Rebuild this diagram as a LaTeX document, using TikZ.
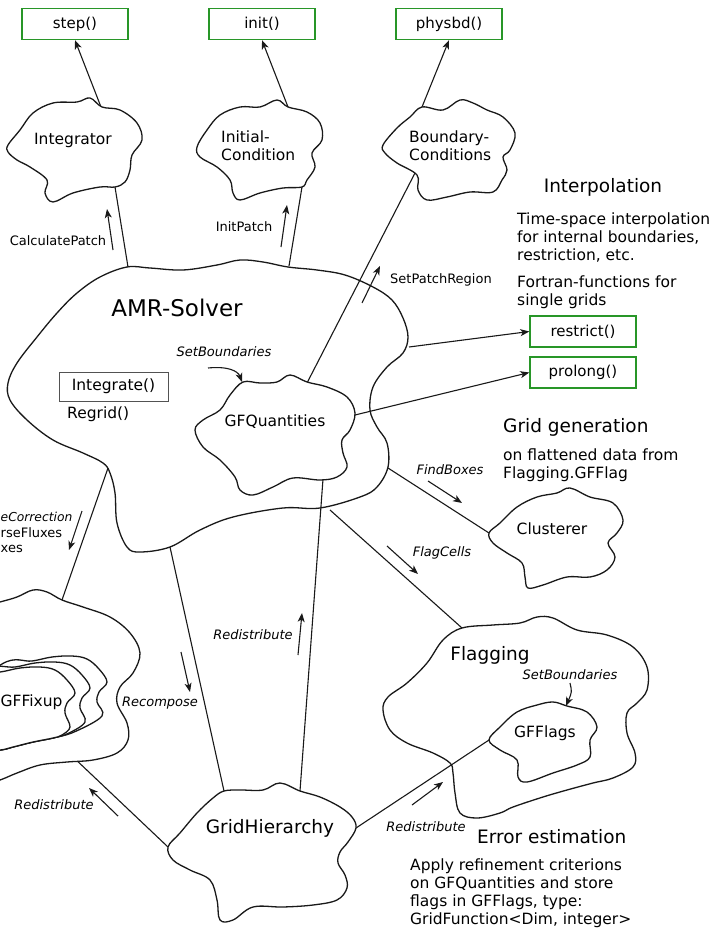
\documentclass[tikz,border=0pt]{standalone}
\usepackage{fontspec}
\setmainfont{DejaVu Sans}
\usetikzlibrary{arrows.meta}
\definecolor{boxgreen}{RGB}{40,150,40}
\definecolor{ink}{RGB}{25,25,25}
\tikzset{
  cloud/.style={draw=ink, line width=1.3pt, fill=white},
  conn/.style={draw=ink, line width=1.1pt},
  flow/.style={draw=ink, line width=1.1pt, -{Stealth[length=9pt,width=7pt,inset=2.5pt]}},
  funcbox/.style={draw=boxgreen, line width=1.4pt, minimum width=106pt, minimum height=31pt, inner sep=0pt, font=\fontsize{15}{18}\selectfont},
  lbl/.style={inner sep=0pt, font=\fontsize{15.5}{18}\selectfont},
  big/.style={inner sep=0pt, font=\fontsize{18.5}{22}\selectfont},
  small/.style={inner sep=0pt, font=\fontsize{13}{15}\selectfont},
  ital/.style={inner sep=0pt, font=\fontsize{13}{15}\selectfont\itshape},
  para/.style={inner sep=0pt, align=left, anchor=north west, font=\fontsize{15.5}{18}\selectfont},
}
\begin{document}
\begin{tikzpicture}[x=1pt,y=-1pt]
\useasboundingbox (0,0) rectangle (716,931);
\clip (0,0) rectangle (716,931);
\fill[white] (0,0) rectangle (716,931);

% ---------- AMR-Solver ----------
\path[cloud] plot[smooth cycle, tension=0.6] coordinates {
 (127,267) (150,268) (183,270) (217,265) (240,260) (263,262) (288,267) (317,270)
 (345,275) (373,287) (392,300) (403,318) (408,337) (403,353) (387,367) (373,387)
 (370,410) (377,427) (387,443) (388,467) (377,487) (360,497) (320,508) (283,508)
 (233,517) (200,530) (170,547) (140,552) (127,547) (117,523) (115,493) (110,473)
 (103,463) (83,453) (53,440) (27,420) (10,400) (8,383) (17,363) (37,337) (57,313)
 (77,293) (100,277)};
\node[inner sep=0pt, font=\fontsize{23}{26}\selectfont] (amr) at (177,308) {AMR-Solver};
\node[draw=ink!75, line width=1pt, minimum width=109pt, minimum height=29pt, inner sep=0pt, font=\fontsize{15.5}{18}\selectfont] (integ) at (113.5,386.5) {Integrate()};
\node[lbl, anchor=west] (regrid) at (67,414) {Regrid()};

% ---------- coordinates of connector ends ----------
\coordinate (intB) at (115,187);
\coordinate (intT) at (101,107);
\coordinate (amrT1) at (128,267);
\coordinate (icB) at (302,187);
\coordinate (icT) at (288,107);
\coordinate (amrT2) at (289,266);
\coordinate (bcT) at (422,107);
\coordinate (bcL) at (415,173);
\coordinate (gfqT) at (307,383);
\coordinate (gfqR) at (355,415);
\coordinate (gfqB) at (323,479);
\coordinate (amrR) at (409,347);
\coordinate (amrR2) at (388,468);
\coordinate (amrB) at (330,510);
\coordinate (amrBL) at (170,547);
\coordinate (amrL) at (108,468);
\coordinate (fixT) at (62,600);
\coordinate (fixB) at (53,738);
\coordinate (ghL) at (168,847);
\coordinate (ghT1) at (224,791);
\coordinate (ghT2) at (300,791);
\coordinate (ghR) at (356,828);
\coordinate (flT) at (462,628);
\coordinate (gffL) at (489,740);
\coordinate (clL) at (489,533);

% ---------- green function boxes ----------
\node[funcbox] (step) at (75,24) {step()};
\node[funcbox] (init) at (262,24) {init()};
\node[funcbox] (physbd) at (449,24) {physbd()};
\node[funcbox] (restrict) at (583,331.5) {restrict()};
\node[funcbox] (prolong) at (583,372.5) {prolong()};

% ---------- connectors ----------
\draw[flow] (intT) -- (step.south);
\draw[flow] (icT) -- (init.south);
\draw[flow] (bcT) -- (physbd.south);
\draw[conn] (intB) -- (amrT1);
\draw[conn] (icB) -- (amrT2);
\draw[conn] (gfqT) -- (bcL);
\draw[flow] (amrR) -- (restrict.west);
\draw[flow] (gfqR) -- (prolong.west);
\draw[conn] (gfqB) -- (ghT2);
\draw[conn] (amrBL) -- (ghT1);
\draw[conn] (amrL) -- (fixT);
\draw[conn] (fixB) -- (ghL);
\draw[conn] (ghR) -- (gffL);
\draw[conn] (amrB) -- (flT);
\draw[conn] (amrR2) -- (clL);

% ---------- Integrator ----------
\path[cloud] plot[smooth cycle, tension=0.6] coordinates {
 (8,145) (20,130) (33,113) (53,103) (77,102) (90,98) (102,107) (120,110) (137,123)
 (142,140) (132,155) (130,170) (125,182) (115,187) (100,187) (73,193) (53,202)
 (45,193) (47,180) (30,167) (17,160) (8,152)};
\node[lbl] (integrator) at (73,140) {Integrator};

% ---------- Initial-Condition ----------
\path[cloud] plot[smooth cycle, tension=0.6] coordinates {
 (197,147) (207,130) (220,115) (240,107) (260,107) (277,100) (288,107) (307,112)
 (320,123) (322,140) (312,153) (315,167) (307,180) (302,187) (283,188) (260,193)
 (240,200) (233,193) (230,180) (217,167) (200,157)};
\node[lbl, align=left, anchor=west] (initcond) at (221,146) {Initial-\\Condition};

% ---------- Boundary-Conditions ----------
\path[cloud] plot[smooth cycle, tension=0.6] coordinates {
 (383,145) (397,128) (410,117) (422,107) (443,110) (460,100) (473,103) (487,110)
 (503,117) (515,133) (510,150) (503,157) (507,170) (502,180) (493,192) (470,192)
 (447,197) (427,200) (418,190) (417,175) (397,163) (385,153)};
\node[lbl, align=left, anchor=west] (bc) at (409,146) {Boundary-\\Conditions};

% ---------- GFQuantities ----------
\path[cloud] plot[smooth cycle, tension=0.6] coordinates {
 (243,382) (260,383) (277,382) (290,375) (307,382) (327,387) (347,397) (355,413)
 (350,430) (342,440) (343,453) (347,467) (337,477) (320,480) (293,478) (273,487)
 (253,495) (240,490) (235,477) (220,460) (203,447) (195,430) (203,420) (220,410)
 (230,395)};
\node[lbl] (gfq) at (275,422) {GFQuantities};

% ---------- Clusterer ----------
\path[cloud] plot[smooth cycle, tension=0.6] coordinates {
 (489,533) (500,523) (517,507) (537,497) (557,493) (570,488) (590,497) (613,503)
 (623,520) (617,533) (608,543) (615,557) (607,570) (590,577) (567,577) (543,585)
 (528,588) (525,577) (522,563) (507,553) (493,543)};
\node[lbl] (clusterer) at (552,529) {Clusterer};

% ---------- Flagging ----------
\path[cloud, fill=none] plot[smooth cycle, tension=0.6] coordinates {
 (462,628) (493,625) (520,623) (537,617) (553,618) (577,630) (607,635) (633,647)
 (647,667) (647,690) (637,703) (627,713) (627,733) (635,753) (633,767) (613,778)
 (593,783) (567,790) (543,797) (513,807) (500,813) (477,818) (460,813) (455,793)
 (453,773) (450,763) (433,753) (407,743) (390,730) (383,710) (388,697) (407,683)
 (427,663) (443,640)};
\node[big] (flagging) at (490,655) {Flagging};

% ---------- GFFlags ----------
\path[cloud] plot[smooth cycle, tension=0.6] coordinates {
 (489,740) (500,727) (517,712) (537,705) (553,702) (567,706) (587,712) (597,727)
 (590,740) (590,757) (577,765) (553,773) (527,782) (518,777) (517,760) (500,750)};
\node[lbl] (gfflags) at (545,733) {GFFlags};

% ---------- GridHierarchy ----------
\path[cloud] plot[smooth cycle, tension=0.6] coordinates {
 (168,847) (180,833) (197,813) (213,798) (224,791) (240,790) (263,790) (280,783)
 (300,791) (320,797) (340,807) (352,817) (356,828) (348,842) (340,852) (338,863)
 (345,875) (347,888) (337,900) (313,905) (283,907) (253,907) (233,920) (220,920)
 (217,900) (210,880) (190,870) (173,860)};
\node[big] (gh) at (270,828) {GridHierarchy};

% ---------- GFFixup container ----------
\path[cloud] plot[smooth cycle, tension=0.6] coordinates {
 (-30,610) (0,602) (17,597) (33,590) (47,592) (62,600) (83,607) (110,617) (130,633)
 (140,653) (133,673) (120,687) (117,703) (127,723) (128,740) (117,753) (93,760)
 (67,762) (40,765) (17,773) (0,780) (-30,790) (-60,700)};
% stacked clouds, back to front
\foreach \dx/\dy in {32/-11, 15/-5, 0/0} {
  \path[cloud] plot[smooth cycle, tension=0.6] coordinates {
   ({-30+\dx},{675+\dy}) ({0+\dx},{672+\dy}) ({20+\dx},{668+\dy}) ({40+\dx},{667+\dy})
   ({55+\dx},{670+\dy}) ({67+\dx},{680+\dy}) ({75+\dx},{693+\dy}) ({67+\dx},{703+\dy})
   ({65+\dx},{713+\dy}) ({70+\dx},{727+\dy}) ({62+0.4*\dx},{735+0.3*\dy}) ({53},{738})
   ({33},{742}) ({13},{747}) ({0},{750}) ({-30},{752}) ({-50},{710})};
}
\node[lbl, anchor=west] (gffixup) at (0.5,702) {GFFixup};

% ---------- flow labels and arrows ----------
\node[small] (lcalc) at (58,241) {CalculatePatch};
\coordinate (ca1) at (113,250); \coordinate (ca2) at (107,209);
\draw[flow] (ca1) -- (ca2);

\node[small] (linit) at (244,227) {InitPatch};
\coordinate (ia1) at (281,247); \coordinate (ia2) at (287,205);
\draw[flow] (ia1) -- (ia2);

\node[small] (lspr) at (441,280) {SetPatchRegion};
\coordinate (sa1) at (362,303); \coordinate (sa2) at (380,266);
\draw[flow] (sa1) -- (sa2);

\node[ital] (lsb1) at (224,352) {SetBoundaries};
\coordinate (sb1) at (208,368); \coordinate (sb2) at (242,382);
\draw[flow] (sb1) .. controls (228,366) and (238,371) .. (sb2);

\node[ital] (lsb2) at (570,675) {SetBoundaries};
\coordinate (sc1) at (570,683); \coordinate (sc2) at (566,706);
\draw[flow] (sc1) .. controls (572,692) .. (sc2);

\node[ital] (lfind) at (450,470) {FindBoxes};
\coordinate (fa1) at (428,481); \coordinate (fa2) at (462,503);
\draw[flow] (fa1) -- (fa2);

\node[ital] (lflag) at (442,553) {FlagCells};
\coordinate (fc1) at (387,546); \coordinate (fc2) at (418,574);
\draw[flow] (fc1) -- (fc2);

\node[ital] (lred1) at (253,635) {Redistribute};
\coordinate (ra1) at (298,655); \coordinate (ra2) at (302,613);
\draw[flow] (ra1) -- (ra2);

\node[ital] (lrec) at (160,703) {Recompose};
\coordinate (rc1) at (181,652); \coordinate (rc2) at (190,692);
\draw[flow] (rc1) -- (rc2);

\node[ital] (lred2) at (54,805) {Redistribute};
\coordinate (rb1) at (118,816); \coordinate (rb2) at (89,788);
\draw[flow] (rb1) -- (rb2);

\node[ital] (lred3) at (426,827) {Redistribute};
\coordinate (rd1) at (412,805); \coordinate (rd2) at (443,782);
\draw[flow] (rd1) -- (rd2);

% labels that begin at the left edge
\node[inner sep=0pt, font=\fontsize{12.3}{15}\selectfont\itshape, anchor=west] (lcorr) at (0.5,517) {eCorrection};
\node[small, anchor=west] (lcoarse) at (0.5,533) {rseFluxes};
\node[small, anchor=west] (lfine) at (0.5,549) {xes};
\coordinate (xa1) at (82,511); \coordinate (xa2) at (69,550);
\draw[flow] (xa1) -- (xa2);

% ---------- right-hand texts ----------
\node[big] (hinterp) at (603,187) {Interpolation};
\node[para] (tinterp) at (517,213) {Time-space interpolation\\for internal boundaries,\\restriction, etc.};
\node[para] (tfort) at (517,276) {Fortran-functions for\\single grids};
\node[big, anchor=west] (hgrid) at (503,427) {Grid generation};
\node[para] (tgrid) at (503,449) {on flattened data from\\Flagging.GFFlag};
\node[big, anchor=west] (herr) at (477,837) {Error estimation};
\node[para] (terr) at (410,859) {Apply refinement criterions\\on GFQuantities and store\\flags in GFFlags, type:\\GridFunction<Dim, integer>};
\end{tikzpicture}
\end{document}
